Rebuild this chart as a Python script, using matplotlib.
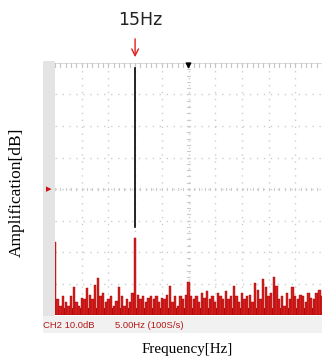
import numpy as np
import matplotlib.pyplot as plt
from matplotlib.patches import Rectangle

# spectrum, 0.5 Hz bins from 0 to 50 Hz (dB, 10 dB/div)
bin_hz = 0.5
amp_db = [-16.7, -35, -37, -34, -36, -37, -34, -31, -36, -37,
          -34.5, -35, -31.4, -33.5, -35, -30.5, -28.3, -34, -33, -36,
          -35, -34, -37, -35.5, -31.1, -34, -37, -35, -36, -33,
          -15.6, -33.5, -35, -34, -36, -34.5, -34, -35, -34, -36,
          -34.5, -35, -33.5, -30.8, -36, -34, -37, -34, -35, -33.5,
          -29.4, -34, -35, -34, -36, -33, -34.5, -32.5, -35, -34,
          -36, -33, -34, -35, -32.5, -35, -34, -30.8, -34, -36,
          -33, -35, -34, -33.5, -36, -29.7, -32, -35, -28.7, -31,
          -34, -33, -27.8, -30.8, -35, -34, -37, -33, -35, -31.1,
          -34, -35, -33.5, -34, -36, -33, -34.5, -35, -33, -32,
          -34]
freq = np.arange(len(amp_db)) * bin_hz
floor_db = -37.8
marker_hz = 15
marker_label = '15Hz'
cursor_top, cursor_bottom = 38.5, -12
ch_text = 'CH2 10.0dB'
tb_text = '5.00Hz (100S/s)'

W, H = 322, 359
fig = plt.figure(figsize=(W / 100, H / 100), dpi=100)

def fx(x):
    return x / W

def fy(y):
    return 1 - y / H

# screen frame pieces (grey strip on the left, readout band at the bottom)
fig.add_artist(Rectangle((fx(43), fy(316)), fx(12), 255 / H, color='#e4e4e4', lw=0))
fig.add_artist(Rectangle((fx(43), fy(333)), fx(279), 17 / H, color='#f1f1f1', lw=0))

ax = fig.add_axes([fx(55), fy(315), fx(267), 252 / H])
ax.set_xlim(0, 50)
ax.set_ylim(-40, 40)
ax.axis('off')

# dotted graticule
for x in np.arange(5, 50, 5):
    ax.axvline(x, color='#cdcdcd', lw=1, ls=(0, (1, 4)), zorder=1)
for y in np.arange(-30, 40, 10):
    ax.axhline(y, color='#cdcdcd', lw=1, ls=(0, (1, 4)), zorder=1)
# ruler ticks on the top edge and centre lines
ax.axhline(40, color='#d4d4d4', lw=1.2, zorder=1)
for x in np.arange(0, 50.1, 1):
    ax.plot([x, x], [40, 38.8], color='#c4c4c4', lw=0.8, zorder=1)
for y in np.arange(-40, 40, 2):
    ax.plot([24.7, 25.3], [y, y], color='#cccccc', lw=0.8, zorder=1)
for x in np.arange(0, 50.1, 1):
    ax.plot([x, x], [-0.4, 0.4], color='#cccccc', lw=0.8, zorder=1)

# spectrum
ax.fill_between([0, 50], -40, floor_db, color='#c81010', lw=0, zorder=2)
ax.bar(freq, np.array(amp_db) + 40, bottom=-40, width=0.44,
       color='#d42020', edgecolor='#a00000', lw=0.3, zorder=3)

# cursor
ax.plot([marker_hz, marker_hz], [cursor_top, cursor_bottom], color='black', lw=1.2, zorder=4)

# trigger marker at top centre
ax.annotate('', xy=(25, 37.2), xytext=(25, 40.5),
            arrowprops=dict(arrowstyle='-|>', color='black', lw=1, mutation_scale=8),
            annotation_clip=False, zorder=5)

# reference level marker on the left strip
fig.text(fx(46), fy(189), '\u25b8', color='#d01010', fontsize=8, ha='left', va='center')

# red arrow + label above the plot
tr = ax.get_xaxis_transform()
ax.annotate('', xy=(marker_hz, 1.012), xytext=(marker_hz, 1.107), xycoords=tr,
            textcoords=tr,
            arrowprops=dict(arrowstyle='->', color='#e02020', lw=1, mutation_scale=12),
            annotation_clip=False)
ax.text(marker_hz + 0.9, 1.171, marker_label, transform=tr, ha='center', va='center',
        fontsize=12.5, color='#222222', clip_on=False)

# scope readout
fig.text(fx(43), fy(325), ch_text, color='#b41818', fontsize=6.8,
         family='Liberation Sans', ha='left', va='center')
fig.text(fx(115), fy(325), tb_text, color='#b41818', fontsize=6.8,
         family='Liberation Sans', ha='left', va='center')

# axis labels
fig.text(fx(17), fy(192), 'Amplification[dB]', rotation=90, fontsize=12.5,
         family='Liberation Serif', ha='center', va='center')
fig.text(fx(187), fy(350), 'Frequency[Hz]', fontsize=10.8,
         family='Liberation Serif', ha='center', va='center')

fig.savefig('out.png', dpi=100)
